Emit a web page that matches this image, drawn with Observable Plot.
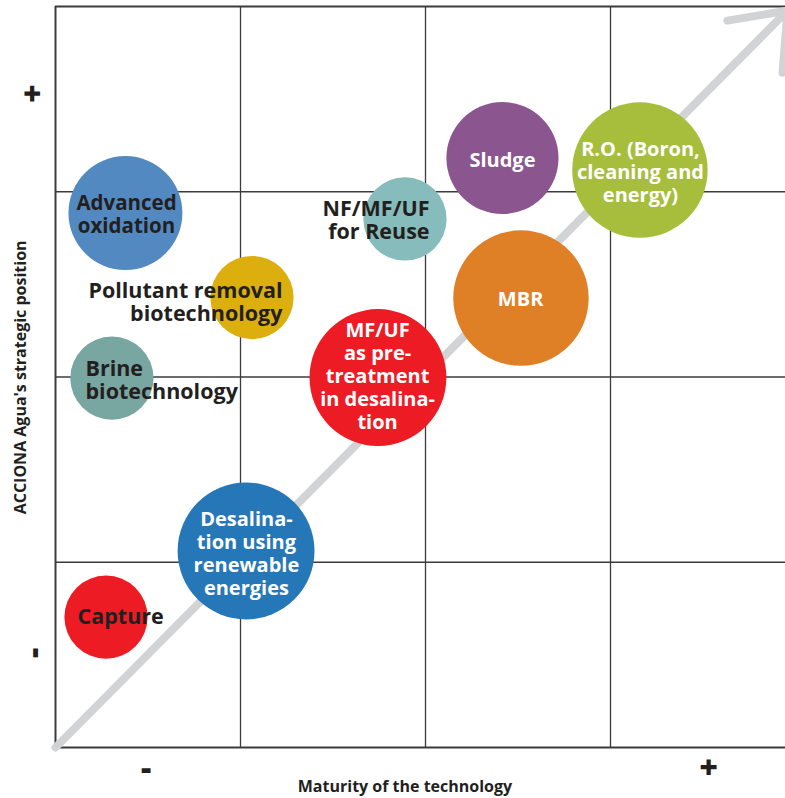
<!DOCTYPE html>
<html><head><meta charset="utf-8">
<script src="https://cdn.jsdelivr.net/npm/d3@7"></script>
<script src="https://cdn.jsdelivr.net/npm/@observablehq/plot@0.6"></script>
<style>
html,body{margin:0;padding:0;background:#fff;overflow:hidden}
#chart svg{display:block;overflow:hidden}
</style></head><body><div id="chart"></div>
<script>
// Bubbles (x = maturity, y = strategic position, in grid-cell units; size = radius in cell units)
const technologies = ["Advanced oxidation","Pollutant removal biotechnology","Brine biotechnology","NF/MF/UF for Reuse","Sludge","R.O. (Boron, cleaning and energy)","MBR","MF/UF as pre-treatment in desalination","Desalination using renewable energies","Capture"];
const maturity  = [0.378, 1.062, 0.305, 1.889, 2.416, 3.159, 2.516, 1.743, 1.030, 0.273];
const strategic = [2.885, 2.429, 1.994, 2.853, 3.182, 3.117, 2.426, 1.997, 1.061, 0.704];
const bubbleSize = [0.308, 0.225, 0.225, 0.225, 0.303, 0.366, 0.366, 0.37, 0.37, 0.225];
const bubbleColors = ["#5289c1","#dcaf0e","#78a6a1","#86bcbb","#8b5590","#a6be3b","#e08026","#ed1c24","#2677b8","#ed1c24"];

// Labels
const labelText = ["Advanced\noxidation","Pollutant removal\nbiotechnology","Brine\nbiotechnology","NF/MF/UF\nfor Reuse","Sludge","R.O. (Boron,\ncleaning and\nenergy)","MBR","MF/UF\nas pre-\ntreatment\nin desalina-\ntion","Desalina-\ntion using\nrenewable\nenergies","Capture"];
const labelX = [0.384, 1.227, 0.162, 2.022, 2.416, 3.162, 2.514, 1.741, 1.032, 0.119];
const labelY = [2.877, 2.402, 1.981, 2.845, 3.174, 3.109, 2.424, 2.008, 1.047, 0.707];
const labelAnchor = ["middle","end","start","end","middle","middle","middle","middle","middle","start"];
const labelColors = ["#231f20","#231f20","#231f20","#231f20","#fff","#fff","#fff","#fff","#fff","#231f20"];

// Grid
const gridX = [0, 1, 2, 3];
const gridY = [0, 1, 2, 3, 4];

// Trend arrow
const arrowShaft = [{x: 0, y: 0}, {x: 3.957, y: 3.978}];
const arrowHead = [{x: 3.632, y: 3.924}, {x: 3.957, y: 3.978}, {x: 3.930, y: 3.643}];

// Axis ticks and titles
const xTickValues = [0.49, 3.53];
const yTickValues = [0.51, 3.53];
const tickLabels = ["-", "+"];
const xTitle = "Maturity of the technology";
const yTitle = "ACCIONA Agua's strategic position";
const xTitleAt = 1.889;
const yTitleAt = 1.998;

const bubbles = technologies.map((t, i) => ({name: t, x: maturity[i], y: strategic[i], r: bubbleSize[i], color: bubbleColors[i]}));
const labels = labelText.map((t, i) => ({text: t, x: labelX[i], y: labelY[i], anchor: labelAnchor[i], color: labelColors[i]}));
const xTicks = xTickValues.map((v, i) => ({v, label: tickLabels[i]}));
const yTicks = yTickValues.map((v, i) => ({v, label: tickLabels[i]}));

const ink = "#231f20";
const font = "'Open Sans', 'Noto Sans', sans-serif";
const labelMark = (anchor, color, size) => Plot.text(labels.filter(d => d.anchor === anchor && (d.color === "#fff") === (color === "light")), {
  x: "x", y: "y", text: "text", fill: "color", textAnchor: anchor,
  fontSize: size, fontWeight: 700, lineHeight: 23 / size, fontFamily: font
});

const chart = Plot.plot({
  width: 785, height: 798,
  marginLeft: 55, marginRight: 0, marginTop: 6, marginBottom: 51,
  x: {domain: [0, 730 / 185], axis: null},
  y: {domain: [0, 4], axis: null},
  r: {type: "linear", domain: [0, 1], range: [0, 185]},
  style: {fontFamily: font, background: "#fff"},
  marks: [
    Plot.ruleX(gridX, {x: d => d, stroke: "#3b3b3b", strokeWidth: d => d === 0 ? 2 : 1.3}),
    Plot.ruleY(gridY, {y: d => d, stroke: "#3b3b3b", strokeWidth: d => (d === 0 || d === 4) ? 2 : 1.3}),
    Plot.line(arrowShaft, {x: "x", y: "y", stroke: "#d1d3d4", strokeWidth: 8, strokeLinecap: "round"}),
    Plot.line(arrowHead, {x: "x", y: "y", stroke: "#d1d3d4", strokeWidth: 8, strokeLinecap: "round", strokeLinejoin: "round"}),
    Plot.dot(bubbles, {x: "x", y: "y", r: "r", fill: "color", stroke: null}),
    labelMark("middle", "light", 20),
    labelMark("middle", "dark", 20.5),
    labelMark("start", "dark", 21.5),
    labelMark("end", "dark", 21.5),
    // x tick labels
    Plot.text(xTicks, {x: "v", text: "label", frameAnchor: "bottom", dy: 21, textAnchor: "middle", lineAnchor: "middle", fontSize: 32, fontWeight: 800, fill: ink, fontFamily: font}),
    // y tick labels (rotated)
    Plot.text(yTicks, {y: "v", text: "label", frameAnchor: "left", dx: -22, rotate: -90, textAnchor: "middle", lineAnchor: "middle", fontSize: 32, fontWeight: 800, fill: ink, fontFamily: font}),
    // axis titles
    Plot.text([xTitle], {x: () => xTitleAt, text: d => d, frameAnchor: "bottom", dy: 39, textAnchor: "middle", lineAnchor: "middle", fontSize: 16, fontWeight: 700, fill: ink, fontFamily: font}),
    Plot.text([yTitle], {y: () => yTitleAt, text: d => d, frameAnchor: "left", dx: -35, rotate: -90, textAnchor: "middle", lineAnchor: "middle", fontSize: 16, fontWeight: 700, fill: ink, fontFamily: font})
  ]
});
document.getElementById("chart").appendChild(chart);
</script></body></html>
